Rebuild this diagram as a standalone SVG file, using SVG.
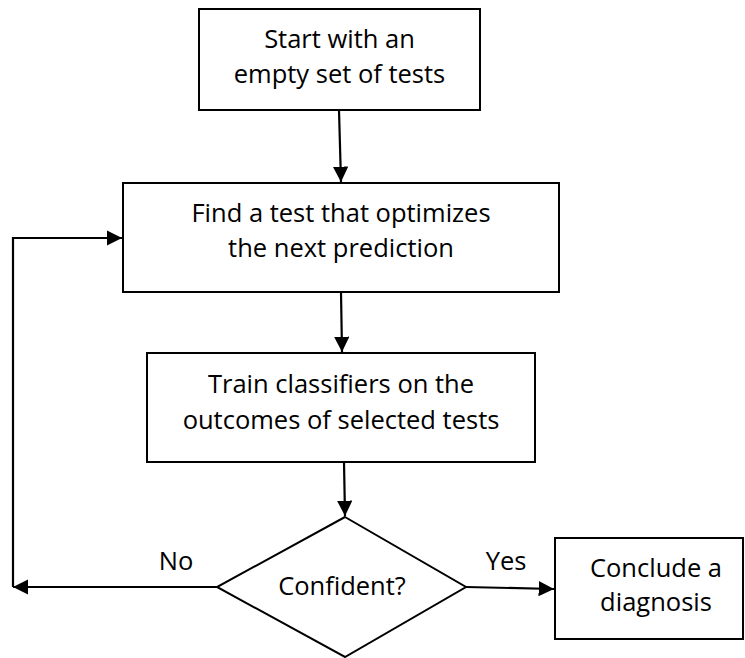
<svg xmlns="http://www.w3.org/2000/svg" width="745" height="658" viewBox="0 0 745 658">
<defs>
<marker id="ah" viewBox="0 0 10 10" refX="10" refY="5" markerWidth="7" markerHeight="7" markerUnits="strokeWidth" orient="auto">
<path d="M0,0 L10,5 L0,10 Z" fill="#000"/>
</marker>
<style>
.box{fill:#fff;stroke:#000;stroke-width:2}
.t{font-family:"Open Sans","Liberation Sans",sans-serif;font-size:25.5px;fill:#000;text-anchor:middle}
.c{fill:none;stroke:#000;stroke-width:2.2;marker-end:url(#ah)}
</style>
</defs>
<rect width="745" height="658" fill="#fff"/>
<g id="start">
<rect class="box" x="199" y="9" width="281" height="101"/>
<text class="t" x="339.5" y="48">Start with an</text>
<text class="t" x="339.5" y="83">empty set of tests</text>
</g>
<g id="find">
<rect class="box" x="123" y="183" width="436" height="109"/>
<text class="t" x="341" y="222">Find a test that optimizes</text>
<text class="t" x="341" y="257">the next prediction</text>
</g>
<g id="train">
<rect class="box" x="147" y="353" width="388" height="109"/>
<text class="t" x="341" y="393">Train classifiers on the</text>
<text class="t" x="341" y="429">outcomes of selected tests</text>
</g>
<g id="confident">
<polygon class="box" points="345,517 466,587 345,657 217,587"/>
<text class="t" x="342" y="595">Confident?</text>
</g>
<g id="conclude">
<rect class="box" x="555" y="538" width="188" height="101"/>
<text class="t" x="656" y="577">Conclude a</text>
<text class="t" x="656" y="611">diagnosis</text>
</g>
<g id="connectors">
<line class="c" x1="339" y1="110" x2="341" y2="182"/>
<line class="c" x1="341" y1="292" x2="342" y2="352"/>
<line class="c" x1="344" y1="462" x2="345" y2="516"/>
<line class="c" x1="217" y1="587" x2="13" y2="587"/>
<polyline class="c" points="13,587 13,238 122,238"/>
<line class="c" x1="466" y1="587" x2="554" y2="589"/>
<text class="t" x="176" y="570">No</text>
<text class="t" x="506" y="570">Yes</text>
</g>
</svg>
